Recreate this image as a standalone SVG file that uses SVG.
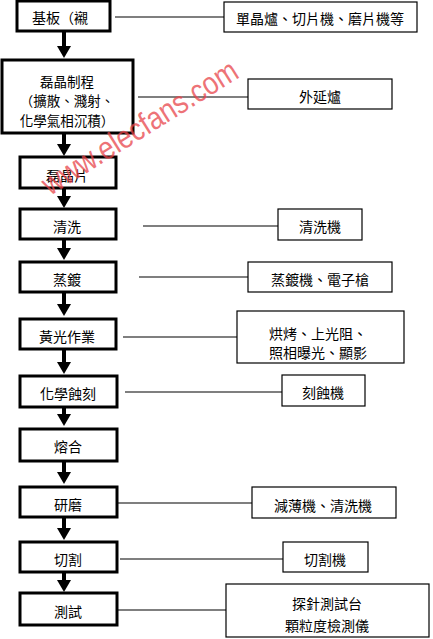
<svg xmlns="http://www.w3.org/2000/svg" width="433" height="639" viewBox="0 0 433 639">
<style>
.step{fill:#fff;stroke:#000;stroke-width:3}
.tool{fill:#fff;stroke:#000;stroke-width:1.2}
.t{font-family:"Noto Sans CJK TC","Noto Sans CJK SC",sans-serif;font-size:14px;fill:#000;text-anchor:middle;dominant-baseline:central}
.s{font-size:13.5px}
.link{stroke:#000;stroke-width:1.2;fill:none}
.flow{stroke:#000;stroke-width:4;fill:none;marker-end:url(#ah)}
.wm{font-family:"Liberation Sans",Arial,sans-serif;font-size:32px;fill:#e8454a;fill-opacity:0.75}
</style>
<defs>
<marker id="ah" viewBox="0 0 12 14" refX="0" refY="7" markerWidth="12" markerHeight="14" markerUnits="userSpaceOnUse" orient="auto">
<path d="M0,0 L12,7 L0,14 z" fill="#000"/>
</marker>
</defs>
<rect width="433" height="639" fill="#fff"/>
<g id="connectors">
<line class="flow" x1="64" y1="32" x2="64" y2="46"/>
<line class="flow" x1="64" y1="134" x2="64" y2="144"/>
<line class="flow" x1="64" y1="189" x2="64" y2="196"/>
<line class="flow" x1="64" y1="240" x2="64" y2="248"/>
<line class="flow" x1="64" y1="293" x2="64" y2="304"/>
<line class="flow" x1="64" y1="350" x2="64" y2="362"/>
<line class="flow" x1="64" y1="408" x2="64" y2="414"/>
<line class="flow" x1="64" y1="462" x2="64" y2="472"/>
<line class="flow" x1="64" y1="518" x2="64" y2="528"/>
<line class="flow" x1="64" y1="573" x2="64" y2="580"/>
<line class="link" x1="115" y1="17" x2="224" y2="17"/>
<line class="link" x1="138" y1="97" x2="248" y2="97"/>
<line class="link" x1="143" y1="226" x2="278" y2="226"/>
<line class="link" x1="139" y1="277" x2="248" y2="277"/>
<line class="link" x1="123" y1="337" x2="237" y2="337"/>
<line class="link" x1="125" y1="392" x2="282" y2="392"/>
<line class="link" x1="117" y1="503" x2="252" y2="503"/>
<line class="link" x1="120" y1="559" x2="283" y2="559"/>
<line class="link" x1="117" y1="610" x2="226" y2="610"/>
</g>
<g id="n1"><rect class="step" x="17" y="1" width="93" height="30"/><text class="t" x="60" y="17">基板（襯</text></g>
<g id="n1t"><rect class="tool" x="224" y="2" width="193" height="30"/><text class="t" x="320" y="18">單晶爐、切片機、磨片機等</text></g>
<g id="n2"><rect class="step" x="2" y="60" width="131" height="73"/>
<text class="t s" x="67" y="80.5">磊晶制程</text>
<text class="t s" x="67" y="100">（擴散、濺射、</text>
<text class="t s" x="67" y="119.5">化學氣相沉積）</text></g>
<g id="n2t"><rect class="tool" x="248" y="79" width="144" height="30"/><text class="t" x="320" y="96">外延爐</text></g>
<g id="n3"><rect class="step" x="20" y="157" width="96" height="31"/><text class="t" x="67" y="175">磊晶片</text></g>
<g id="n4"><rect class="step" x="20" y="209" width="96" height="30"/><text class="t" x="67" y="226">清洗</text></g>
<g id="n4t"><rect class="tool" x="278" y="209" width="84" height="31"/><text class="t" x="320" y="226">清洗機</text></g>
<g id="n5"><rect class="step" x="20" y="262" width="96" height="30"/><text class="t" x="67" y="279">蒸鍍</text></g>
<g id="n5t"><rect class="tool" x="248" y="262" width="144" height="30"/><text class="t" x="320" y="279">蒸鍍機、電子槍</text></g>
<g id="n6"><rect class="step" x="20" y="319" width="96" height="30"/><text class="t" x="67" y="336">黃光作業</text></g>
<g id="n6t"><rect class="tool" x="237" y="311" width="167" height="52"/>
<text class="t" x="318" y="333">烘烤、上光阻、</text>
<text class="t" x="318" y="352">照相曝光、顯影</text></g>
<g id="n7"><rect class="step" x="20" y="376" width="97" height="31"/><text class="t" x="68" y="393">化學蝕刻</text></g>
<g id="n7t"><rect class="tool" x="282" y="375" width="83" height="31"/><text class="t" x="323" y="392">刻蝕機</text></g>
<g id="n8"><rect class="step" x="20" y="429" width="97" height="32"/><text class="t" x="68" y="446">熔合</text></g>
<g id="n9"><rect class="step" x="20" y="487" width="97" height="30"/><text class="t" x="68" y="504">研磨</text></g>
<g id="n9t"><rect class="tool" x="252" y="487" width="144" height="31"/><text class="t" x="323" y="505">減薄機、清洗機</text></g>
<g id="n10"><rect class="step" x="20" y="542" width="97" height="30"/><text class="t" x="68" y="559">切割</text></g>
<g id="n10t"><rect class="tool" x="283" y="542" width="85" height="30"/><text class="t" x="325" y="559">切割機</text></g>
<g id="n11"><rect class="step" x="20" y="593" width="97" height="32"/><text class="t" x="68" y="611">測試</text></g>
<g id="n11t"><rect class="tool" x="226" y="584" width="203" height="53"/>
<text class="t" x="327" y="603">探針測試台</text>
<text class="t" x="327" y="625">顆粒度檢測儀</text></g>
<text class="wm" x="50" y="196" transform="rotate(-32 50 196)" textLength="225" lengthAdjust="spacingAndGlyphs">www.elecfans.com</text>
</svg>
